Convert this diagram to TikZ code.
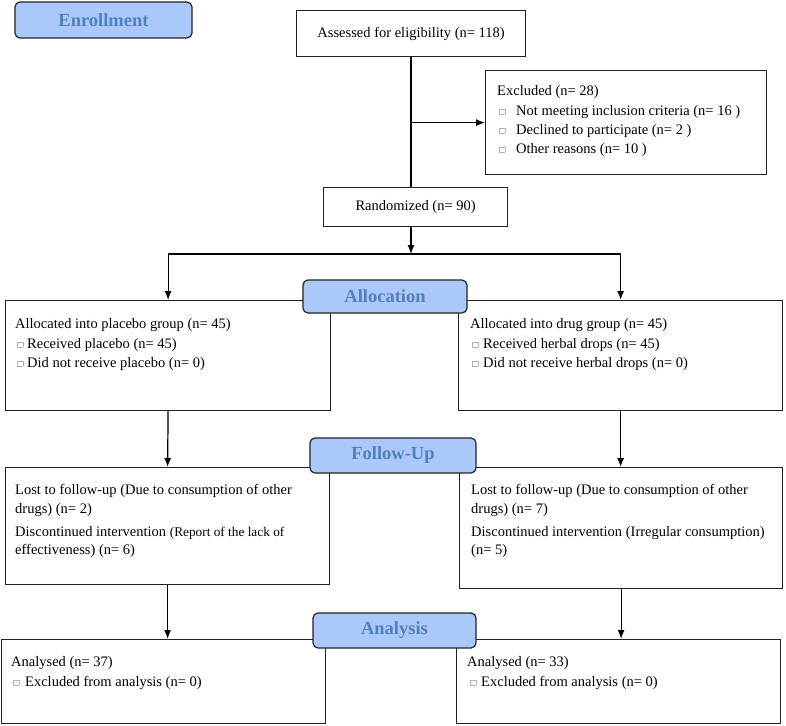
\documentclass[tikz,border=0pt]{standalone}
\usepackage{fontspec}
\setmainfont{Liberation Serif}
\usetikzlibrary{arrows.meta}
\definecolor{lblfill}{RGB}{171,200,250}
\definecolor{lbltext}{RGB}{79,129,189}
\definecolor{edge}{RGB}{35,35,35}
\newcommand{\bx}{\raisebox{1pt}{\textcolor{black!30}{\setlength{\fboxrule}{0.5pt}\setlength{\fboxsep}{0pt}\fbox{\rule{0pt}{5pt}\rule{5pt}{0pt}}}}}
\tikzset{
  box/.style={draw=edge, line width=1.2pt, rectangle, inner sep=0pt, anchor=north west, font=\fontsize{14.5}{17}\selectfont},
  phase/.style={draw=edge, line width=1.2pt, fill=lblfill, rounded corners=5pt, text=lbltext, font=\fontsize{18.5}{20}\selectfont\bfseries, inner sep=0pt},
  txt/.style={anchor=base west, inner sep=0pt, font=\fontsize{14.5}{17}\selectfont},
  bul/.style={anchor=base west, inner sep=0pt},
  arr/.style={-{Latex[length=9pt,width=7pt]}, line width=1.2pt, draw=black},
  ln/.style={line width=1.2pt, draw=black}
}
\begin{document}
\begin{tikzpicture}[x=1pt,y=-1pt]
\useasboundingbox (0,0) rectangle (786,725);
\fill[white] (0,0) rectangle (786,725);

% top boxes
\node[box, minimum width=229pt, minimum height=46pt] (ass) at (296,10) {Assessed for eligibility (n= 118)};
\node[box, minimum width=281pt, minimum height=104pt] (exc) at (485,70) {};
\node[box, minimum width=184pt, minimum height=39pt] (ran) at (323,187) {Randomized (n= 90)};

\node[txt] (e0) at (497,95) {Excluded (n= 28)};
\node[bul] (eb1) at (499,115) {\bx};
\node[txt] (e1) at (516,115) {Not meeting inclusion criteria (n= 16 )};
\node[bul] (eb2) at (499,134) {\bx};
\node[txt] (e2) at (516,134) {Declined to participate (n= 2 )};
\node[bul] (eb3) at (499,153) {\bx};
\node[txt] (e3) at (516,153) {Other reasons (n= 10 )};

% allocation boxes
\node[box, minimum width=325pt, minimum height=110pt] (la) at (5,300) {};
\node[box, minimum width=324pt, minimum height=110pt] (ra) at (458,300) {};
\node[txt] (la0) at (15,328) {Allocated into placebo group (n= 45)};
\node[bul] (lab1) at (17,348) {\bx};
\node[txt] (la1) at (27,348) {Received placebo (n= 45)};
\node[bul] (lab2) at (17,367) {\bx};
\node[txt] (la2) at (27,367) {Did not receive placebo (n= 0)};
\node[txt] (ra0) at (470,328) {Allocated into drug group (n= 45)};
\node[bul] (rab1) at (472,348) {\bx};
\node[txt] (ra1) at (483,348) {Received herbal drops (n= 45)};
\node[bul] (rab2) at (472,367) {\bx};
\node[txt] (ra2) at (483,367) {Did not receive herbal drops (n= 0)};

% follow-up boxes
\node[box, minimum width=324pt, minimum height=117pt] (lf) at (5,467) {};
\node[box, minimum width=323pt, minimum height=121pt] (rf) at (459,467) {};
\node[txt] (lf0) at (15,494) {Lost to follow-up (Due to consumption of other};
\node[txt] (lf1) at (15,513) {drugs) (n= 2)};
\node[txt] (lf2) at (15,536) {Discontinued intervention {\fontsize{13.3}{16}\selectfont(Report of the lack of}};
\node[txt] (lf3) at (15,554) {effectiveness) (n= 6)};
\node[txt] (rf0) at (471,494) {Lost to follow-up (Due to consumption of other};
\node[txt] (rf1) at (471,513) {drugs) (n= 7)};
\node[txt] (rf2) at (471,536) {Discontinued intervention (Irregular consumption)};
\node[txt] (rf3) at (471,554) {(n= 5)};

% analysis boxes
\node[box, minimum width=324pt, minimum height=84pt] (lan) at (1,639) {};
\node[box, minimum width=324pt, minimum height=84pt] (ran2) at (456,639) {};
\node[txt] (lan0) at (11,666) {Analysed (n= 37)};
\node[bul] (lanb) at (13,686) {\bx};
\node[txt] (lan1) at (25,686) {Excluded from analysis (n= 0)};
\node[txt] (ran0) at (467,666) {Analysed (n= 33)};
\node[bul] (ranb) at (470,686) {\bx};
\node[txt] (ran1) at (481,686) {Excluded from analysis (n= 0)};

% connectors
\coordinate (split) at (411,254);
\draw[ln] (ass.south -| split) -- (ran.north -| split);
\draw[arr] (split |- exc.west) -- (exc.west);
\draw[arr] (ran.south -| split) -- (split);
\draw[arr] (split) -| (la.north);
\draw[arr] (split) -| (ra.north);
\draw[arr] (la.south) -- (lf.north);
\draw[arr] (ra.south) -- (ra.south |- rf.north);
\draw[arr] (lf.south) -- (lf.south |- lan.north);
\draw[arr] (rf.south) -- (rf.south |- ran2.north);

% phase labels
\node[phase, minimum width=177pt, minimum height=36pt] (enr) at (103.5,20) {Enrollment};
\node[phase, minimum width=164pt, minimum height=33pt] (alc) at (385,296.5) {Allocation};
\node[phase, minimum width=166pt, minimum height=35pt] (fol) at (393,455.5) {Follow-Up};
\node[phase, minimum width=163pt, minimum height=35pt] (anl) at (394.5,630.5) {Analysis};
\end{tikzpicture}
\end{document}
